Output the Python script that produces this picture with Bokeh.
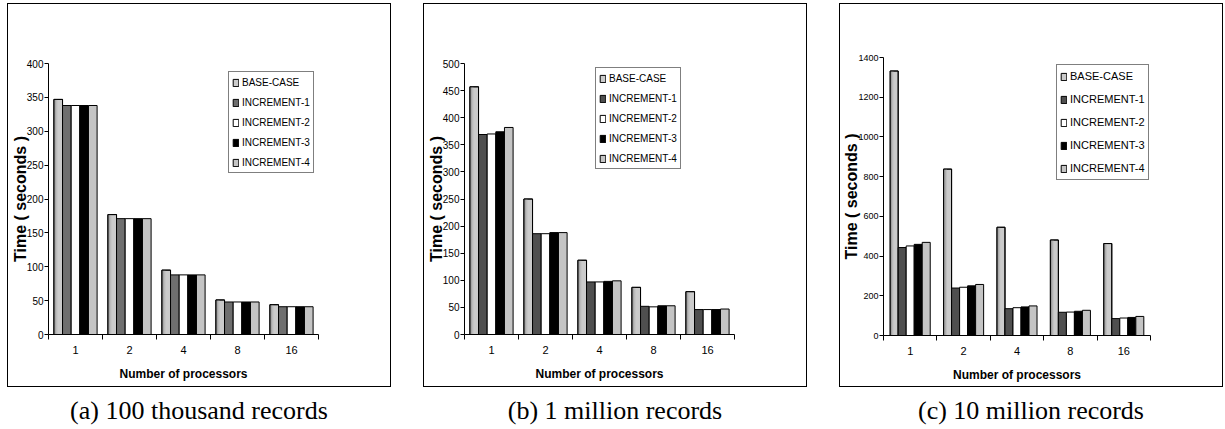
from bokeh.plotting import figure
from bokeh.layouts import row, column
from bokeh.models import (Div, FixedTicker, SingleIntervalTicker, Legend, LegendItem,
                          ColumnDataSource)
from bokeh.transform import dodge
from bokeh.embed import file_html
from bokeh.resources import INLINE
import numpy as np

# ---------------- data ----------------
processors = ["1", "2", "4", "8", "16"]
series = ["BASE-CASE", "INCREMENT-1", "INCREMENT-2", "INCREMENT-3", "INCREMENT-4"]

a_base = [347, 177, 95, 51, 44]
a_inc1 = [338, 171, 88, 48, 41]
a_inc2 = [338, 171, 88, 48, 41]
a_inc3 = [338, 171, 88, 48, 41]
a_inc4 = [338, 171, 88, 48, 41]

b_base = [457, 250, 137, 87, 79]
b_inc1 = [369, 186, 97, 52, 46]
b_inc2 = [370, 186, 97, 51, 46]
b_inc3 = [374, 188, 98, 53, 46]
b_inc4 = [382, 188, 99, 53, 47]

c_base = [1332, 838, 545, 481, 463]
c_inc1 = [443, 239, 135, 117, 85]
c_inc2 = [451, 243, 140, 118, 88]
c_inc3 = [459, 250, 144, 122, 91]
c_inc4 = [469, 257, 149, 127, 96]

captions = ["(a) 100 thousand records", "(b) 1 million records", "(c) 10 million records"]

SANS = "Liberation Sans"


def make_panel(vals, ymax, yint, inc1_color, borders, legend_loc, bar_w,
               tick_fs, legend_fs, leg_lh, leg_sp, ylab_standoff):
    xs = (np.arange(len(processors)) + 0.5).tolist()
    data = {"x": xs}
    keys = ["s0", "s1", "s2", "s3", "s4"]
    for k, v in zip(keys, vals):
        data[k] = v
    src = ColumnDataSource(data)

    left, top, right, bottom = borders
    p = figure(width=384, height=384, x_range=(0, len(processors)), y_range=(0, ymax),
               output_backend="svg", toolbar_location=None,
               min_border_left=left, min_border_top=top, min_border_right=right,
               min_border_bottom=bottom, styles={"border": "1px solid black"})
    p.xgrid.visible = False
    p.ygrid.visible = False
    p.outline_line_color = None
    p.background_fill_color = "white"
    p.border_fill_color = "white"

    colors = ["#cbcbcb", inc1_color, "#ffffff", "#000000", "#c4c4c4"]
    offsets = [(i - 2) * bar_w for i in range(5)]
    renderers = []
    for i, k in enumerate(keys):
        r = p.vbar(x=dodge("x", offsets[i]), top=k, width=bar_w, source=src,
                   fill_color=colors[i], line_color="black", line_width=1)
        renderers.append(r)
        if i == 0:
            # gradient-like shading on the left side of the base-case bars
            shades = ["#7e7e7e", "#939393", "#a8a8a8", "#bcbcbc"]
            sw = bar_w * 0.1
            for j, sc in enumerate(shades):
                off = offsets[0] - bar_w / 2 + sw * (j + 0.5)
                p.vbar(x=dodge("x", off), top=k, width=sw, source=src,
                       fill_color=sc, line_color=None)
            p.vbar(x=dodge("x", offsets[0]), top=k, width=bar_w, source=src,
                   fill_color=None, line_color="black", line_width=1)

    # y axis
    yax = p.yaxis[0]
    yax.ticker = SingleIntervalTicker(interval=yint, num_minor_ticks=0)
    yax.axis_label = "Time ( seconds )"
    yax.axis_label_text_font = SANS
    yax.axis_label_text_font_style = "bold"
    yax.axis_label_text_font_size = "16px"
    yax.axis_label_text_color = "black"
    yax.axis_label_standoff = ylab_standoff
    yax.major_label_text_font = SANS
    yax.major_label_text_font_size = tick_fs
    yax.major_label_text_color = "black"
    yax.major_tick_in = 0
    yax.major_tick_out = 4
    yax.major_label_standoff = 1
    yax.minor_tick_line_color = None
    yax.axis_line_color = "black"
    yax.major_tick_line_color = "black"

    # x axis: labels at category centres, tick marks at category borders
    xax = p.xaxis[0]
    xax.ticker = FixedTicker(ticks=xs, minor_ticks=list(range(len(processors) + 1)))
    xax.major_label_overrides = {x: lab for x, lab in zip(xs, processors)}
    xax.major_tick_line_color = None
    xax.major_tick_in = 0
    xax.major_tick_out = 5
    xax.minor_tick_in = 0
    xax.minor_tick_out = 5
    xax.minor_tick_line_color = "black"
    xax.axis_line_color = "black"
    xax.major_label_standoff = 6
    xax.major_label_text_font = SANS
    xax.major_label_text_font_size = "11px"
    xax.major_label_text_color = "black"
    xax.axis_label = "Number of processors"
    xax.axis_label_text_font = SANS
    xax.axis_label_text_font_style = "bold"
    xax.axis_label_text_font_size = "12px"
    xax.axis_label_text_color = "black"
    xax.axis_label_standoff = 10

    items = [LegendItem(label=s, renderers=[r]) for s, r in zip(series, renderers)]
    leg = Legend(items=items, location=legend_loc, border_line_color="black",
                 border_line_width=1, background_fill_color="white",
                 label_text_font=SANS, label_text_font_size=legend_fs,
                 label_text_color="black",
                 glyph_width=7, glyph_height=9, label_standoff=3,
                 label_height=leg_lh, spacing=leg_sp, padding=3, margin=0)
    p.add_layout(leg)
    return p


pa = make_panel([a_base, a_inc1, a_inc2, a_inc3, a_inc4], 400, 50, "#6f6f6f",
                (30, 59, 74, 54), (180, 161), 0.16, "10px", "10px", 14, 6, -5)
pb = make_panel([b_base, b_inc1, b_inc2, b_inc3, b_inc4], 500, 50, "#4f4f4f",
                (30, 59, 74, 54), (131, 165), 0.16, "10px", "10px", 14, 6, -5)
pc = make_panel([c_base, c_inc1, c_inc2, c_inc3, c_inc4], 1400, 200, "#4f4f4f",
                (30, 53, 74, 53), (173, 155), 0.15, "9px", "11px", 16, 7, -5)


def caption(txt):
    html = ('<div style="width:384px;text-align:center;font-family:\'Liberation Serif\';'
            'font-size:26px;line-height:26px;padding-top:11px;white-space:nowrap;color:black;">'
            + txt + '</div>')
    return Div(text=html, width=384, height=38, margin=0)


layout = row(column(pa, caption(captions[0]), spacing=0),
             column(pb, caption(captions[1]), spacing=0),
             column(pc, caption(captions[2]), spacing=0),
             spacing=32, styles={"margin-top": "3px", "margin-left": "7px"})

open("out.html", "w").write(file_html(layout, INLINE))
